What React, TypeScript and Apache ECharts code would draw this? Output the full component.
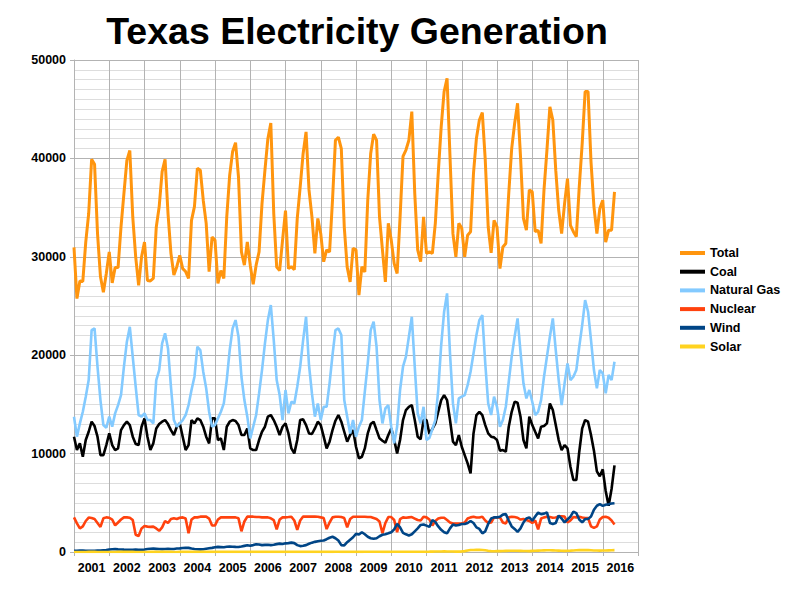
import React, { useEffect, useRef } from "react";
import * as echarts from "echarts";

const YEARS: number[] = [2001, 2002, 2003, 2004, 2005, 2006, 2007, 2008, 2009, 2010, 2011, 2012, 2013, 2014, 2015, 2016];
const Y_TICKS: number[] = [0, 10000, 20000, 30000, 40000, 50000];
const SERIES_NAMES: string[] = ["Total", "Coal", "Natural Gas", "Nuclear", "Wind", "Solar"];

const total: number[] = [
  30950, 25750, 27550, 27500, 31500, 34400, 39900, 39400, 32400, 28000, 26400, 28300,
  30500, 27350, 28900, 28900, 33050, 36450, 39800, 40800, 34050, 30000, 27100, 30000,
  31500, 27600, 27550, 27800, 33000, 35100, 38650, 39900, 34400, 30350, 28150, 29000,
  30150, 28800, 28500, 27800, 33700, 35100, 39000, 38800, 35750, 33400, 28500, 32000,
  31700, 27300, 28600, 27800, 34050, 38300, 40700, 41600, 38100, 30500, 29150, 31500,
  29150, 27200, 29150, 30500, 35400, 38800, 42000, 43600, 34400, 28950, 28600, 31700,
  34700, 28800, 29000, 28700, 33900, 37100, 40500, 42700, 36800, 34050, 30350, 33900,
  32350, 29500, 30700, 30500, 35750, 41850, 42150, 41000, 33050, 28950, 27450, 30850,
  30700, 26100, 29000, 28450, 35750, 40500, 42450, 41850, 34050, 30700, 27450, 33400,
  31700, 29300, 28300, 34000, 40200, 40850, 41850, 44750, 36450, 30700, 29500, 34050,
  30350, 30500, 30350, 33400, 38500, 43200, 46800, 48150, 40200, 32350, 30000, 33400,
  32900, 30000, 32200, 32550, 38500, 42050, 43900, 44650, 39850, 33050, 30400, 33700,
  33050, 28800, 31000, 31350, 36450, 41000, 43550, 45600, 40200, 33900, 32700, 36800,
  36600, 32550, 32700, 31350, 36800, 40850, 45250, 43900, 38800, 34750, 32350, 35400,
  37950, 33200, 32550, 32050, 37100, 41500, 46800, 46800, 39650, 35100, 32350, 34900,
  35750, 31500, 32700, 32700, 36600
];

const coal: number[] = [
  11720, 10360, 11040, 9680, 11380, 12220, 13240, 12800, 11720, 9850, 9850, 10870,
  12050, 10870, 10360, 10530, 12390, 12900, 13240, 12900, 11720, 10970, 10870, 12730,
  13580, 11720, 10360, 11040, 12560, 13000, 13240, 13410, 13000, 12390, 11890, 12730,
  13070, 11720, 10360, 10870, 13410, 13070, 13580, 13410, 12730, 11720, 11040, 13580,
  13580, 11380, 11550, 10360, 12730, 13240, 13410, 13310, 12900, 11890, 11890, 12560,
  10530, 10360, 10360, 11380, 12220, 12730, 13750, 13920, 13410, 12730, 11890, 12730,
  13070, 12050, 10530, 10020, 11380, 13410, 13480, 12900, 12050, 11990, 12560, 13240,
  12900, 11720, 10530, 11210, 12390, 13340, 13920, 13240, 12220, 11210, 11890, 12390,
  10700, 9510, 9680, 10530, 12050, 13000, 13240, 12390, 11550, 11310, 11110, 11890,
  12560, 11380, 10020, 11380, 13410, 14430, 14760, 14930, 13410, 11720, 11450, 13410,
  13410, 12000, 12500, 13070, 14250, 15440, 15950, 15440, 13410, 11210, 10870, 11890,
  10700, 9850, 9000, 7990, 12050, 13920, 14250, 13920, 12900, 12050, 11720, 11650,
  11380, 10300, 10360, 10190, 12730, 14250, 15270, 15170, 13750, 11380, 10530, 13750,
  12900, 12220, 11550, 12730, 12800, 13070, 15100, 14430, 12900, 11380, 10360, 10870,
  10530, 8670, 7310, 7310, 10190, 12560, 13410, 13240, 11890, 10300, 8200, 7700,
  8400, 6200, 4700, 6400, 8800
];

const naturalGas: number[] = [
  13750, 11720, 13070, 14250, 15780, 17470, 22550, 22720, 18830, 15440, 12900, 12630,
  13750, 12730, 14090, 14930, 15950, 18830, 21370, 22890, 19840, 16800, 13920, 13750,
  14090, 13410, 13410, 13070, 17470, 18490, 21200, 22220, 20690, 16800, 13410, 12730,
  13070, 13410, 13920, 14930, 16460, 17810, 20860, 20520, 18320, 16630, 14250, 12730,
  12900, 13580, 14250, 15100, 17470, 20520, 22720, 23570, 21880, 17810, 15440, 13750,
  11550, 12730, 13920, 16120, 18490, 21200, 23570, 25100, 21540, 17470, 15950, 13410,
  16460, 14090, 15270, 15100, 16800, 18830, 21540, 23910, 19000, 16120, 13750, 15100,
  13410, 14760, 14760, 17140, 20020, 22550, 22720, 22050, 15440, 13750, 12050, 13410,
  11720, 12730, 13410, 16290, 19170, 22550, 23400, 20860, 15440, 13070, 14590, 14930,
  12730, 11040, 12730, 16460, 18830, 19850, 21880, 23910, 18830, 14090, 13070, 14760,
  11380, 11600, 12500, 13410, 16460, 21030, 24420, 26280, 20180, 15100, 13070, 15610,
  15780, 15950, 16960, 18320, 20180, 22050, 23570, 24080, 19170, 15100, 13920, 15780,
  14760, 12730, 13410, 14760, 17300, 19850, 21880, 23740, 20350, 17140, 15610, 16460,
  15270, 13920, 14250, 15440, 17810, 19850, 21880, 23740, 20520, 17470, 14930, 17140,
  19170, 17470, 17810, 18490, 20860, 23060, 25600, 24420, 21540, 18490, 16630, 18490,
  18150, 16120, 17990, 17470, 19340
];

const nuclear: number[] = [
  3520, 2910, 2400, 2600, 3150, 3500, 3450, 3350, 2950, 2550, 3420, 3520,
  3480, 3300, 2700, 3000, 3300, 3520, 3520, 3480, 3250, 1750, 1620, 2400,
  2650, 2580, 2550, 2580, 2400, 2150, 2500, 3150, 2950, 3350, 3420, 3350,
  3480, 3520, 3400, 1900, 3300, 3520, 3520, 3590, 3590, 3590, 3400, 2700,
  2700, 3300, 3520, 3520, 3520, 3520, 3520, 3520, 3420, 2100, 3100, 3590,
  3590, 3590, 3560, 3550, 3520, 3520, 3520, 3420, 3250, 2300, 3300, 3520,
  3520, 3550, 3590, 3200, 2250, 3200, 3600, 3600, 3600, 3600, 3600, 3580,
  3520, 3450, 2330, 3000, 3520, 3580, 3580, 3550, 3450, 2500, 3350, 3580,
  3580, 3580, 3580, 3580, 3550, 3550, 3450, 3350, 3100, 1900, 2950, 3550,
  3550, 3250, 2000, 3350, 3520, 3480, 3520, 3550, 3400, 3250, 3200, 3580,
  3520, 3300, 2700, 3150, 3400, 3480, 3480, 3250, 3000, 2900, 2900, 2900,
  2900, 3000, 3400, 3520, 3580, 3500, 3500, 3580, 3200, 2950, 3000, 3520,
  3520, 3520, 3000, 2900, 3520, 3580, 3550, 3480, 3300, 3350, 3250, 3150,
  2950, 3200, 2300, 3400, 3520, 3580, 3550, 3480, 3500, 3620, 3620, 3600,
  3000, 3200, 3550, 3520, 3580, 3500, 3450, 3450, 2600, 2450, 2600, 3300,
  3550, 3580, 3480, 3200, 2800
];

const wind: number[] = [
  130, 120, 150, 160, 130, 120, 110, 120, 140, 150, 180, 200,
  260, 280, 290, 270, 260, 240, 230, 230, 220, 240, 230, 220,
  250, 300, 330, 340, 320, 300, 290, 300, 320, 300, 310, 350,
  370, 400, 430, 420, 350, 300, 280, 270, 280, 330, 380, 420,
  480, 520, 500, 480, 530, 550, 540, 520, 510, 560, 620, 680,
  640, 700, 780, 760, 700, 720, 740, 700, 730, 800, 850, 820,
  880, 900, 950, 900, 700, 600, 640, 700, 840, 950, 1030, 1100,
  1150, 1170, 1300, 1450, 1550, 1400, 1170, 700, 670, 1000, 1250, 1500,
  1840, 1780, 2010, 1800, 1550, 1400, 1340, 1400, 1600, 1750, 1800, 1900,
  2010, 2300, 2850, 2500, 1950, 1800, 1675, 1800, 2100, 2400, 2750, 2800,
  2680, 2550, 3250, 3050, 2600, 2250, 2010, 1900, 2400, 2800, 2700, 2750,
  2850, 2850, 2950, 3150, 2950, 2500, 2345, 1900, 2100, 2850, 3400, 3520,
  3520, 3580, 3800, 3850, 3200, 2600, 2345, 2050, 2400, 3000, 3400, 3520,
  3180, 3600, 4000, 3850, 3900, 4020, 2950, 2850, 2950, 3700, 3400, 3015,
  3300, 3600, 4100, 3950, 3300, 3015, 3350, 3350, 3600, 4300, 4700, 4860,
  4690, 4800, 4860, 4925, 4950
];

const solar: number[] = [
  5, 5, 6, 6, 7, 8, 8, 8, 7, 6, 5, 5,
  6, 6, 7, 8, 8, 9, 9, 9, 8, 7, 6, 6,
  7, 7, 8, 9, 10, 10, 10, 10, 9, 8, 7, 7,
  8, 8, 9, 10, 11, 11, 11, 11, 10, 9, 8, 8,
  9, 9, 10, 11, 12, 12, 12, 12, 11, 10, 9, 9,
  10, 10, 11, 12, 13, 14, 14, 13, 12, 11, 10, 10,
  11, 11, 12, 14, 15, 16, 16, 15, 14, 12, 11, 11,
  12, 12, 14, 16, 17, 18, 18, 17, 16, 14, 12, 12,
  14, 15, 17, 19, 21, 22, 22, 21, 19, 17, 15, 14,
  18, 20, 24, 27, 30, 31, 31, 30, 28, 25, 22, 20,
  30, 35, 42, 48, 55, 58, 60, 58, 52, 46, 40, 35,
  60, 90, 150, 200, 210, 220, 215, 200, 170, 120, 90, 80,
  85, 90, 100, 110, 120, 125, 128, 125, 115, 100, 95, 90,
  110, 120, 140, 160, 170, 175, 175, 170, 155, 140, 125, 115,
  130, 140, 160, 180, 190, 195, 195, 190, 175, 160, 145, 135,
  145, 155, 170, 185, 190
];

const COLORS: string[] = ["#ff950e", "#000000", "#83caff", "#ff420e", "#004586", "#ffd320"];

// month categories Jan 2001 .. Jan 2017 (axis runs to the end of 2016)
const categories: string[] = [];
YEARS.forEach((y) => {
  for (let m = 1; m <= 12; m++) categories.push(`${y}-${m < 10 ? "0" + m : m}`);
});
categories.push("2017-01");

const FONT = '"Liberation Sans", Arial, sans-serif';

export default function App() {
  const ref = useRef<HTMLDivElement>(null);
  useEffect(() => {
    document.body.style.margin = "0";
    if (!ref.current) return;
    const chart = echarts.init(ref.current, undefined, { renderer: "svg" });
    const dataSets = [total, coal, naturalGas, nuclear, wind, solar];
    chart.setOption({
      animation: false,
      backgroundColor: "#ffffff",
      textStyle: { fontFamily: FONT },
      graphic: [
        {
          type: "text",
          x: 357,
          y: 31,
          style: {
            text: "Texas Electricity Generation",
            textAlign: "center",
            textVerticalAlign: "middle",
            font: `bold 37.5px ${FONT}`,
            fill: "#000000",
          },
        },
      ],
      legend: {
        orient: "vertical",
        left: 675,
        top: 241,
        icon: "rect",
        itemWidth: 25,
        itemHeight: 4,
        itemGap: 4.7,
        data: SERIES_NAMES,
        textStyle: { fontSize: 12.5, fontWeight: "bold", color: "#000", lineHeight: 14, fontFamily: FONT },
      },
      grid: { left: 74, right: 162, top: 60, bottom: 48, containLabel: false },
      xAxis: {
        type: "category",
        data: categories,
        boundaryGap: false,
        axisLine: { show: true, lineStyle: { color: "#b3b3b3" } },
        axisTick: { show: true, length: 4, interval: (i: number) => i % 12 === 0, lineStyle: { color: "#b3b3b3" } },
        axisLabel: {
          interval: (i: number) => i % 12 === 6,
          formatter: (v: string) => v.slice(0, 4),
          color: "#000",
          fontWeight: "bold",
          fontSize: 12.5,
          margin: 9,
          fontFamily: FONT,
        },
        splitLine: { show: true, interval: (i: number) => i % 12 === 0, lineStyle: { color: "#b3b3b3" } },
      },
      yAxis: {
        type: "value",
        min: Y_TICKS[0],
        max: Y_TICKS[Y_TICKS.length - 1],
        interval: 10000,
        axisLine: { show: true, lineStyle: { color: "#b3b3b3" } },
        axisTick: { show: true, length: 4, lineStyle: { color: "#b3b3b3" } },
        axisLabel: {
          color: "#000",
          fontWeight: "bold",
          fontSize: 12.5,
          margin: 8,
          fontFamily: FONT,
          formatter: (v: number) => String(v),
        },
        splitLine: { show: true, lineStyle: { color: "#b3b3b3" } },
        minorTick: { show: false, splitNumber: 10 },
        minorSplitLine: { show: true, lineStyle: { color: "#dddddd" } },
      },
      series: SERIES_NAMES.map((name, k) => ({
        name,
        type: "line",
        data: dataSets[k],
        showSymbol: false,
        symbol: "none",
        color: COLORS[k],
        lineStyle: { width: k === 0 ? 3 : 2.6, color: COLORS[k] },
        z: 2 + k,
      })),
    });
    return () => chart.dispose();
  }, []);
  return <div ref={ref} style={{ width: 800, height: 600 }} />;
}
